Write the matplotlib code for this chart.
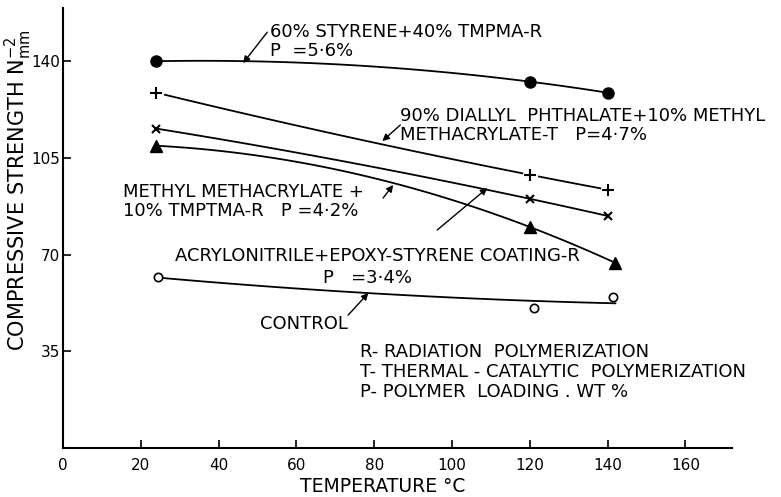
import matplotlib.pyplot as plt
import numpy as np

# values
temp_styrene = [24, 120, 140]
strength_styrene = [140.0, 132.6, 128.6]
temp_diallyl = [24, 120, 140]
strength_diallyl = [128.6, 98.9, 93.5]
temp_acrylo = [24, 120, 140]
strength_acrylo = [115.6, 90.2, 84.0]
temp_mma = [24, 120, 142]
strength_mma = [109.4, 80.0, 67.0]
temp_control = [24.5, 121, 141.5]
strength_control = [62.0, 50.7, 54.7]
# hand-drawn curve through the control points
control_curve_t = [25, 60, 80, 100, 120, 142]
control_curve_v = [61.6, 57.6, 56.2, 54.5, 53.0, 52.5]

x_ticks = [0, 20, 40, 60, 80, 100, 120, 140, 160]
y_ticks = [35, 70, 105, 140]

plt.rcParams['font.family'] = ['DejaVu Sans']
plt.rcParams['font.size'] = 13


def smooth(t, v):
    c = np.polyfit(t, v, 2)
    tt = np.linspace(t[0], t[-1], 100)
    return tt, np.polyval(c, tt)


fig = plt.figure(figsize=(7.81, 4.97), dpi=100)
ax = fig.add_axes([0.0807, 0.0986, 0.8566, 0.885])

lw = 1.3
tt, vv = smooth(temp_styrene, strength_styrene)
ax.plot(tt, vv, color='black', lw=lw)
ax.plot(temp_styrene, strength_styrene, 'o', color='black', ms=8, zorder=4)

tt, vv = smooth(temp_diallyl, strength_diallyl)
ax.plot(tt, vv, color='black', lw=lw)
ax.plot(temp_diallyl, strength_diallyl, 'o', color='white', ms=10, zorder=3)
ax.plot(temp_diallyl, strength_diallyl, '+', color='black', ms=8, mew=1.5, zorder=4)

tt, vv = smooth(temp_acrylo, strength_acrylo)
ax.plot(tt, vv, color='black', lw=lw)
ax.plot(temp_acrylo, strength_acrylo, 'x', color='black', ms=6, mew=1.5, zorder=4)

tt, vv = smooth(temp_mma, strength_mma)
ax.plot(tt, vv, color='black', lw=lw)
ax.plot(temp_mma, strength_mma, '^', color='black', ms=8, zorder=4)

tt, vv = smooth(control_curve_t, control_curve_v)
ax.plot(tt, vv, color='black', lw=lw)
ax.plot(temp_control, strength_control, 'o', mfc='white', mec='black', ms=6, mew=1.2, zorder=4)

arrow = dict(arrowstyle='-|>', color='black', lw=1, mutation_scale=10, shrinkA=0, shrinkB=0)

ax.text(53.2, 153.8, '60% STYRENE+40% TMPMA-R\nP  =5·6%', va='top', ha='left', linespacing=1.1)
ax.annotate('', xy=(46.3, 139.3), xytext=(52.5, 150.5), arrowprops=arrow)

ax.text(86.7, 123.4, '90% DIALLYL  PHTHALATE+10% METHYL\nMETHACRYLATE-T   P=4·7%',
        va='top', ha='left', linespacing=1.1)
ax.annotate('', xy=(82.1, 111.1), xytext=(86.7, 116.9), arrowprops=arrow)

ax.text(15.5, 95.9, 'METHYL METHACRYLATE +\n10% TMPTMA-R   P =4·2%', va='top', ha='left', linespacing=1.1)
ax.annotate('', xy=(84.9, 95.2), xytext=(82.3, 90.5), arrowprops=arrow)

ax.text(28.8, 72.7, 'ACRYLONITRILE+EPOXY-STYRENE COATING-R', va='top', ha='left')
ax.text(66.9, 64.8, 'P   =3·4%', va='top', ha='left')
ax.annotate('', xy=(109.1, 94.1), xytext=(96.2, 78.9), arrowprops=arrow)

ax.text(50.7, 48.1, 'CONTROL', va='top', ha='left')
ax.annotate('', xy=(78.5, 56.1), xytext=(73.3, 48.1), arrowprops=arrow)

ax.text(76.4, 38.0, 'R- RADIATION  POLYMERIZATION\nT- THERMAL - CATALYTIC  POLYMERIZATION\n'
        'P- POLYMER  LOADING . WT %', va='top', ha='left', linespacing=1.15)

ax.set_xlim(0, 172)
ax.set_ylim(0, 159.2)
ax.set_xticks(x_ticks)
ax.set_yticks(y_ticks)
ax.spines['top'].set_visible(False)
ax.spines['right'].set_visible(False)
ax.spines['left'].set_linewidth(1.5)
ax.spines['bottom'].set_linewidth(1.5)
ax.tick_params(axis='both', labelsize=11, direction='in', length=6, width=1.2)
ax.tick_params(axis='x', pad=7)
ax.tick_params(axis='y', pad=2)

fig.text(383 / 781, 1 - 487 / 497, 'TEMPERATURE °C', ha='center', va='center', fontsize=13.5)
fig.text(18 / 781, 1 - 190 / 497, 'COMPRESSIVE STRENGTH N$_{\\mathrm{mm}}^{-2}$',
         rotation=90, ha='center', va='center', fontsize=15)

fig.savefig('out.png', dpi=100)
